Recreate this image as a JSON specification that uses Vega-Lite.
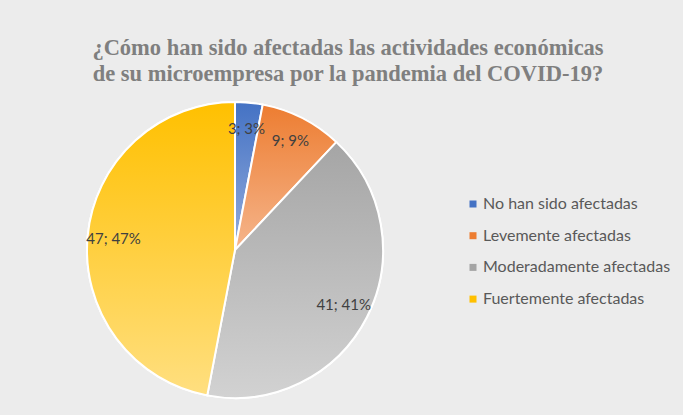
{
  "$schema": "https://vega.github.io/schema/vega-lite/v6.json",
  "width": 296,
  "height": 296,
  "autosize": {"type": "none"},
  "padding": {"left": 87, "top": 102, "right": 300, "bottom": 17},
  "background": "#ececec",
  "config": {"view": {"stroke": null}},
  "title": {
    "text": ["¿Cómo han sido afectadas las actividades económicas", "de su microempresa por la pandemia del COVID-19?"],
    "font": "Liberation Serif",
    "fontSize": 22.5,
    "fontWeight": "bold",
    "color": "#7f7f7f",
    "anchor": "middle",
    "frame": "group",
    "dx": 113,
    "offset": 13,
    "lineHeight": 26
  },
  "data": {
    "values": [
      {"orden": 1, "categoria": "No han sido afectadas", "valor": 3, "etiqueta": "3; 3%"},
      {"orden": 2, "categoria": "Levemente afectadas", "valor": 9, "etiqueta": "9; 9%"},
      {"orden": 3, "categoria": "Moderadamente afectadas", "valor": 41, "etiqueta": "41; 41%"},
      {"orden": 4, "categoria": "Fuertemente afectadas", "valor": 47, "etiqueta": "47; 47%"}
    ]
  },
  "layer": [
    {
      "transform": [
        {"stack": "valor", "groupby": [], "sort": [{"field": "orden", "order": "ascending"}], "as": ["v0", "v1"]}
      ],
      "mark": {"type": "arc", "stroke": "white", "strokeWidth": 2},
      "encoding": {
        "theta": {"field": "v0", "type": "quantitative", "stack": null, "scale": {"domain": [0, 100]}},
        "theta2": {"field": "v1"},
        "color": {
          "field": "categoria",
          "type": "nominal",
          "sort": null,
          "scale": {
            "domain": ["No han sido afectadas", "Levemente afectadas", "Moderadamente afectadas", "Fuertemente afectadas"],
            "range": ["#4472c4", "#ed7d31", "#a5a5a5", "#ffc000"]
          },
          "legend": {
            "orient": "none",
            "legendX": 378,
            "legendY": 94,
            "title": null,
            "labelFont": "Lato",
            "labelFontSize": 16,
            "labelColor": "#595959",
            "labelLimit": 300,
            "symbolType": "square",
            "symbolSize": 49,
            "symbolStrokeWidth": 0,
            "rowPadding": 15.7,
            "labelOffset": 2
          }
        }
      }
    },
    {
      "transform": [
        {"stack": "valor", "groupby": [], "sort": [{"field": "orden", "order": "ascending"}], "as": ["v0", "v1"]},
        {"filter": "datum.orden == 1"}
      ],
      "mark": {"type": "arc", "stroke": "white", "strokeWidth": 2,
        "fill": {"gradient": "linear", "x1": 0, "y1": 0, "x2": 0, "y2": 1,
          "stops": [{"offset": 0, "color": "#4472c4"}, {"offset": 1, "color": "#93acdc"}]}},
      "encoding": {
        "theta": {"field": "v0", "type": "quantitative", "stack": null},
        "theta2": {"field": "v1"}
      }
    },
    {
      "transform": [
        {"stack": "valor", "groupby": [], "sort": [{"field": "orden", "order": "ascending"}], "as": ["v0", "v1"]},
        {"filter": "datum.orden == 2"}
      ],
      "mark": {"type": "arc", "stroke": "white", "strokeWidth": 2,
        "fill": {"gradient": "linear", "x1": 0, "y1": 0, "x2": 0, "y2": 1,
          "stops": [{"offset": 0, "color": "#ed7d31"}, {"offset": 1, "color": "#f5b58c"}]}},
      "encoding": {
        "theta": {"field": "v0", "type": "quantitative", "stack": null},
        "theta2": {"field": "v1"}
      }
    },
    {
      "transform": [
        {"stack": "valor", "groupby": [], "sort": [{"field": "orden", "order": "ascending"}], "as": ["v0", "v1"]},
        {"filter": "datum.orden == 3"}
      ],
      "mark": {"type": "arc", "stroke": "white", "strokeWidth": 2,
        "fill": {"gradient": "linear", "x1": 0, "y1": 0, "x2": 0, "y2": 1,
          "stops": [{"offset": 0, "color": "#a5a5a5"}, {"offset": 1, "color": "#d2d2d2"}]}},
      "encoding": {
        "theta": {"field": "v0", "type": "quantitative", "stack": null},
        "theta2": {"field": "v1"}
      }
    },
    {
      "transform": [
        {"stack": "valor", "groupby": [], "sort": [{"field": "orden", "order": "ascending"}], "as": ["v0", "v1"]},
        {"filter": "datum.orden == 4"}
      ],
      "mark": {"type": "arc", "stroke": "white", "strokeWidth": 2,
        "fill": {"gradient": "linear", "x1": 0, "y1": 0, "x2": 0, "y2": 1,
          "stops": [{"offset": 0, "color": "#ffc000"}, {"offset": 1, "color": "#ffdf80"}]}},
      "encoding": {
        "theta": {"field": "v0", "type": "quantitative", "stack": null},
        "theta2": {"field": "v1"}
      }
    },
    {
      "mark": {"type": "text", "radius": 122, "font": "Lato", "fontSize": 15, "color": "#404040"},
      "encoding": {
        "theta": {"field": "valor", "type": "quantitative", "stack": true},
        "order": {"field": "orden", "type": "quantitative", "sort": "ascending"},
        "text": {"field": "etiqueta"}
      }
    }
  ]
}
